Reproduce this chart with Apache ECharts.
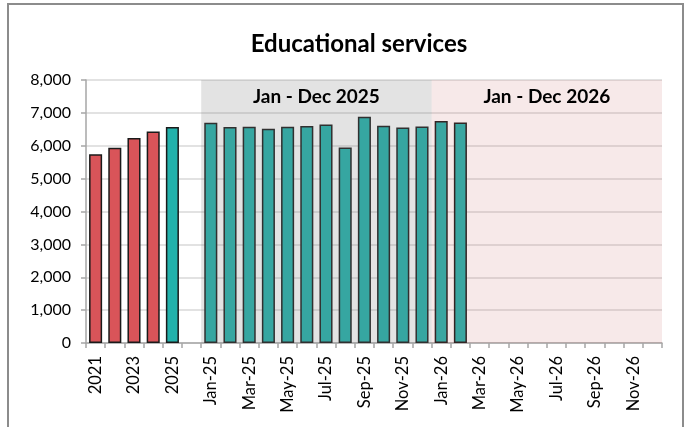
<!DOCTYPE html>
<html>
<head>
<meta charset="utf-8">
<script src="https://cdn.jsdelivr.net/npm/echarts@6/dist/echarts.min.js"></script>
<style>
html,body{margin:0;padding:0;background:#fff;}
#chart{width:688px;height:427px;}
</style>
</head>
<body>
<div id="chart"></div>
<script>
// ---- data ----
var annualCategories = ['2021', '2022', '2023', '2024', '2025'];
var annualValues = [5740, 5936, 6232, 6433, 6567];
var months2025 = ['Jan-25','Feb-25','Mar-25','Apr-25','May-25','Jun-25','Jul-25','Aug-25','Sep-25','Oct-25','Nov-25','Dec-25'];
var values2025 = [6698, 6567, 6577, 6515, 6577, 6597, 6647, 5946, 6881, 6607, 6557, 6587];
var months2026 = ['Jan-26','Feb-26','Mar-26','Apr-26','May-26','Jun-26','Jul-26','Aug-26','Sep-26','Oct-26','Nov-26','Dec-26'];
var values2026 = [6755, 6708, null, null, null, null, null, null, null, null, null, null];
var yTicks = [0, 1000, 2000, 3000, 4000, 5000, 6000, 7000, 8000];
var bandLabels = ['Jan - Dec 2025', 'Jan - Dec 2026'];
var bandRanges = [[6, 18], [18, 30]]; // category index ranges

// ---- build ----
var categories = annualCategories.concat(['']).concat(months2025).concat(months2026);
var allValues = annualValues.concat([null]).concat(values2025).concat(values2026);
var nAnnualRed = annualCategories.length - 1;

var barData = allValues.map(function (v, i) {
  return {
    value: v,
    itemStyle: { color: i < nAnnualRed ? '#d95459' : '#22b1ab' }
  };
});

var FONT = 'Lato';

var chart = echarts.init(document.getElementById('chart'), null, { renderer: 'canvas' });
chart.setOption({
  animation: false,
  backgroundColor: '#ffffff',
  title: {
    text: 'Educational services',
    left: 354,
    textAlign: 'center',
    top: 27,
    textStyle: { fontFamily: FONT, fontWeight: 'bold', fontSize: 24, color: '#000' }
  },
  grid: { left: 86, right: 26, top: 80, bottom: 84, containLabel: false },
  xAxis: [{
    type: 'category',
    data: categories,
    boundaryGap: true,
    axisLine: { lineStyle: { color: '#a6a6a6', width: 1.5 } },
    axisTick: { show: true, interval: 0, length: 5, lineStyle: { color: '#a6a6a6', width: 1.5 } },
    axisLabel: { interval: 1, rotate: 90, margin: 13, fontFamily: FONT, fontSize: 16.5, color: '#000' },
    splitLine: { show: false }
  }, {
    type: 'value',
    min: 0,
    max: categories.length,
    show: false
  }],
  yAxis: {
    type: 'value',
    min: yTicks[0],
    max: yTicks[yTicks.length - 1],
    interval: yTicks[1] - yTicks[0],
    axisLine: { show: true, lineStyle: { color: '#a6a6a6', width: 1.5 } },
    axisTick: { show: true, length: 5, lineStyle: { color: '#a6a6a6', width: 1.5 } },
    axisLabel: {
      margin: 15, fontFamily: FONT, fontSize: 16, color: '#000',
      formatter: function (v) { return v.toLocaleString('en-US'); }
    },
    splitLine: { show: true, lineStyle: { color: '#d9d9d9', width: 1.5 } }
  },
  series: [{
    type: 'bar',
    xAxisIndex: 0,
    data: barData,
    barCategoryGap: '32%',
    z: 2,
    itemStyle: { borderColor: '#1a1a1a', borderWidth: 1.5 }
  }, {
    type: 'line',
    xAxisIndex: 1,
    data: [],
    z: 5,
    silent: true,
    markArea: {
      silent: true,
      z: 5,
      data: [
        [{ xAxis: bandRanges[0][0], yAxis: yTicks[0], name: bandLabels[0],
           itemStyle: { color: 'rgba(128,128,128,0.22)' } },
         { xAxis: bandRanges[0][1], yAxis: yTicks[yTicks.length - 1] }],
        [{ xAxis: bandRanges[1][0], yAxis: yTicks[0], name: bandLabels[1],
           itemStyle: { color: 'rgba(200,100,100,0.145)' } },
         { xAxis: bandRanges[1][1], yAxis: yTicks[yTicks.length - 1] }]
      ],
      label: {
        show: true, position: 'insideTop', distance: 7,
        fontFamily: FONT, fontWeight: 'bold', fontSize: 19, color: '#000'
      }
    }
  }],
  graphic: [{
    type: 'rect',
    shape: { x: 8, y: 4, width: 675, height: 440 },
    style: { fill: 'none', stroke: '#8c8c8c', lineWidth: 2 },
    silent: true,
    z: 100
  }]
});
</script>
</body>
</html>
